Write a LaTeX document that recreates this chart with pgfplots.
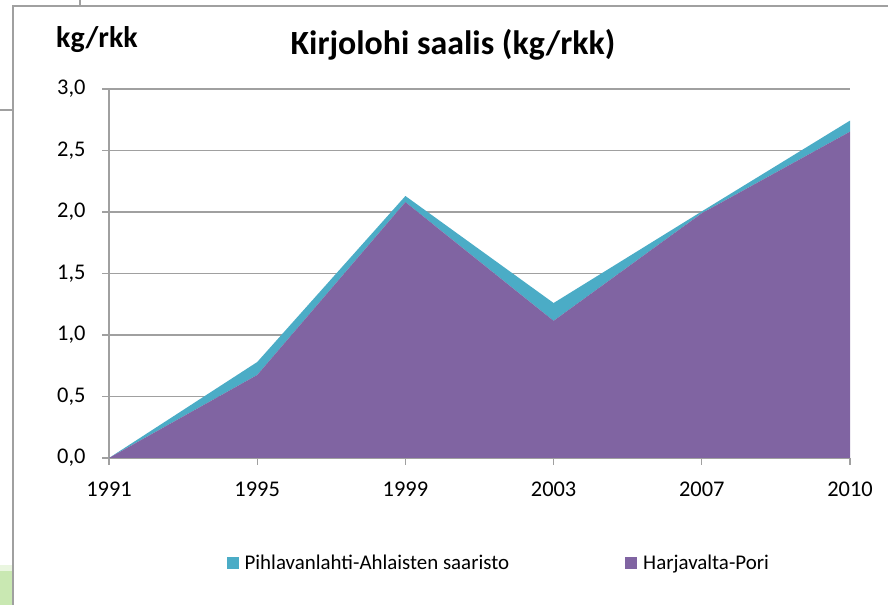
\documentclass[border=0pt]{standalone}
\usepackage{pgfplots}
\pgfplotsset{compat=1.18}
\usepackage{fontspec}
\setmainfont{Carlito}
\definecolor{hpori}{HTML}{8064A2}
\definecolor{pihla}{HTML}{4BACC6}
\definecolor{gridc}{HTML}{A0A0A0}
\begin{document}
\begin{tikzpicture}[x=1bp,y=1bp]
\path[use as bounding box] (0,0) rectangle (888,605);
% chart frame
\draw[gridc, line width=1.2bp] (13,0) -- (13,599) -- (888,599);
\draw[gridc, line width=1.2bp] (80,605) -- (80,599);
\draw[gridc, line width=1.2bp] (0,495) -- (13,495);
\fill[green!40!olive!30!white] (0,0) rectangle (12.4,34);
\fill[green!40!olive!12!white] (0,34) rectangle (12.4,40);
\begin{axis}[
  at={(109bp,147bp)}, anchor=origin,
  scale only axis, width=741bp, height=369bp,
  xmin=0, xmax=5, ymin=0, ymax=3,
  xtick={0,1,2,3,4,5},
  xticklabels={1991,1995,1999,2003,2007,2010},
  ytick={0,0.5,1,1.5,2,2.5,3},
  yticklabel style={/pgf/number format/.cd, fixed, fixed zerofill, precision=1, use comma, /tikz/.cd, xshift=-13bp},
  /pgf/number format/assume math mode=true,
  axis x line*=bottom, axis y line*=left,
  x axis line style={gridc, line width=1.2bp, -},
  y axis line style={gridc, line width=1.2bp, -},
  ymajorgrids, major grid style={gridc, line width=1.2bp},
  tick style={gridc, line width=1.2bp},
  major tick length=7bp, tick align=outside,
  tick label style={font=\fontsize{22.5}{26}\selectfont, black},
  xticklabel style={yshift=-13bp},
  stack plots=y,
  clip=false,
  legend columns=2,
  legend style={at={(0.526,-0.285)}, anchor=center, draw=none, fill=none,
    font=\fontsize{21}{25}\selectfont,
    /tikz/every odd column/.append style={column sep=4bp},
    /tikz/every even column/.append style={column sep=114bp}},
  legend image code/.code={\path[#1, draw=none] (0bp,-6bp) rectangle (12bp,6bp);},
]
\addlegendimage{fill=pihla, draw=none}
\addlegendentry{Pihlavanlahti-Ahlaisten saaristo}
\addlegendimage{fill=hpori, draw=none}
\addlegendentry{Harjavalta-Pori}
\addplot[fill=hpori, draw=none, forget plot] coordinates {(0,0) (1,0.675) (2,2.08) (3,1.115) (4,1.99) (5,2.653)} \closedcycle;
\addplot[fill=pihla, draw=none, forget plot] coordinates {(0,0) (1,0.105) (2,0.05) (3,0.145) (4,0.015) (5,0.09)} \closedcycle;
\end{axis}
\node[font=\bfseries\fontsize{30}{34}\selectfont, anchor=center] at (97,565) {kg/rkk};
\node[font=\bfseries\fontsize{34}{38}\selectfont, anchor=center] at (453,560) {Kirjolohi saalis (kg/rkk)};
\end{tikzpicture}
\end{document}
